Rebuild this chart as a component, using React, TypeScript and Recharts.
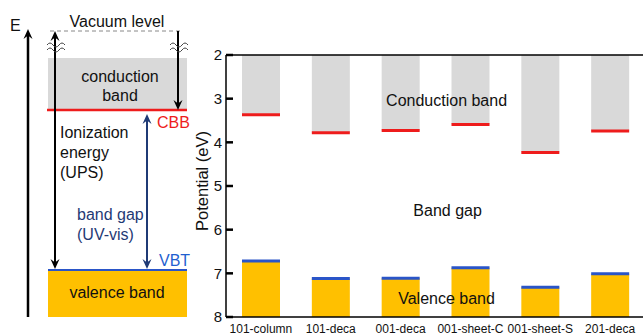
import { ComposedChart, Bar, XAxis, YAxis, ReferenceDot, ReferenceLine } from 'recharts';

// band edges (eV, axis is inverted)
const categories = ['101-column', '101-deca', '001-deca', '001-sheet-C', '001-sheet-S', '201-deca'];
const cbb = [3.37, 3.78, 3.73, 3.59, 4.23, 3.74];
const vbt = [6.72, 7.12, 7.11, 6.87, 7.32, 7.01];
const yTicks = [2, 3, 4, 5, 6, 7, 8];
const Y_MIN = 2;
const Y_MAX = 8;

const data = categories.map((name, i) => ({
  name,
  cond: [Y_MIN, cbb[i]],
  val: [vbt[i], Y_MAX],
}));

const FONT = '"Liberation Sans", Arial, sans-serif';
const GRAY = '#d9d9d9';
const YELLOW = '#ffc000';
const RED = '#ee1c1c';
const BLUE = '#2a55c8';
const NAVY = '#1f3a75';

const CondShape = (props: any) => {
  const { x, y, width, height } = props;
  const top = Math.min(y, y + height);
  const bottom = Math.max(y, y + height);
  return (
    <g>
      <rect x={x} y={top} width={width} height={bottom - top} fill={GRAY} />
      <line x1={x} x2={x + width} y1={bottom} y2={bottom} stroke={RED} strokeWidth={3} />
    </g>
  );
};

const ValShape = (props: any) => {
  const { x, y, width, height } = props;
  const top = Math.min(y, y + height);
  const bottom = Math.max(y, y + height);
  return (
    <g>
      <rect x={x} y={top} width={width} height={bottom - top} fill={YELLOW} />
      <line x1={x} x2={x + width} y1={top} y2={top} stroke={BLUE} strokeWidth={3} />
    </g>
  );
};

const YLabel = (props: any) => {
  const vb = props.viewBox;
  const cx = vb.x + 22;
  const cy = vb.y + vb.height / 2 - 5;
  return (
    <text x={cx} y={cy} transform={`rotate(-90, ${cx}, ${cy})`} textAnchor="middle" dominantBaseline="central"
      fontSize={16.5} fill="#111" fontFamily={FONT}>
      Potential (eV)
    </text>
  );
};

const note = (text: string, dx: number) => (props: any) => {
  const vb = props.viewBox;
  return (
    <text x={vb.x + dx} y={vb.y} textAnchor="middle" dominantBaseline="central" fontSize={16} fill="#111" fontFamily={FONT}>
      {text}
    </text>
  );
};

const head = (x: number, y: number, up: boolean, color: string) => {
  const s = up ? 1 : -1;
  return (
    <path
      d={`M${x},${y} L${x - 4.5},${y + 10 * s} L${x},${y + 6.5 * s} L${x + 4.5},${y + 10 * s} Z`}
      fill={color}
    />
  );
};

const squiggle = (x: number, y: number) => (
  <g fill="none" stroke="#444" strokeWidth={1}>
    <path d={`M${x},${y} q3,-4 6,0 t6,0 t6,0`} />
    <path d={`M${x},${y + 5} q3,-4 6,0 t6,0 t6,0`} />
  </g>
);

const Schematic = () => (
  <svg width={192} height={336} style={{ position: 'absolute', left: 0, top: 0 }} fontFamily={FONT}>
    <text x={10} y={31} fontSize={16} fill="#111">E</text>
    <line x1={28} x2={28} y1={317} y2={33} stroke="#000" strokeWidth={2.5} />
    {head(28, 29, true, '#000')}

    <line x1={50} x2={180} y1={31} y2={31} stroke="#888" strokeWidth={1} strokeDasharray="4 3" />
    <text x={117} y={27} fontSize={16} fill="#111" textAnchor="middle">Vacuum level</text>

    <rect x={48} y={58} width={139} height={52} fill={GRAY} />
    <text x={120} y={82} fontSize={16} fill="#111" textAnchor="middle">conduction</text>
    <text x={120} y={101} fontSize={16} fill="#111" textAnchor="middle">band</text>
    <line x1={47} x2={187} y1={110} y2={110} stroke={RED} strokeWidth={2.5} />

    <line x1={55} x2={55} y1={35} y2={265} stroke="#000" strokeWidth={2} />
    {head(55, 31, true, '#000')}
    {head(55, 269, false, '#000')}
    {squiggle(47, 45)}

    <line x1={178} x2={178} y1={31} y2={106} stroke="#000" strokeWidth={2} />
    {head(178, 110, false, '#000')}
    {squiggle(170, 45)}

    <line x1={147} x2={147} y1={118} y2={265} stroke={NAVY} strokeWidth={2} />
    {head(147, 114, true, NAVY)}
    {head(147, 269, false, NAVY)}

    <text x={157} y={128} fontSize={16} fill={RED}>CBB</text>
    <text x={60} y={138} fontSize={16} fill="#111">Ionization</text>
    <text x={60} y={158} fontSize={16} fill="#111">energy</text>
    <text x={60} y={178} fontSize={16} fill="#111">(UPS)</text>
    <text x={77} y={220} fontSize={16} fill={NAVY}>band gap</text>
    <text x={77} y={240} fontSize={16} fill={NAVY}>(UV-vis)</text>
    <text x={159} y={266} fontSize={16} fill="#1f5fd0">VBT</text>

    <line x1={48} x2={187} y1={270} y2={270} stroke={BLUE} strokeWidth={2} />
    <rect x={48} y={271} width={139} height={46} fill={YELLOW} />
    <text x={117} y={298} fontSize={16} fill="#111" textAnchor="middle">valence band</text>
  </svg>
);

export default function App() {
  return (
    <div style={{ position: 'absolute', left: 0, top: 0, width: 643, height: 336, overflow: 'hidden', background: '#fff' }}>
      <Schematic />
      <div style={{ position: 'absolute', left: 180, top: 0 }}>
        <ComposedChart width={480} height={336} data={data} margin={{ top: 55, right: 15, bottom: 0, left: 0 }}>
          <XAxis
            xAxisId="a"
            dataKey="name"
            height={19}
            axisLine={{ stroke: '#000', strokeWidth: 1.5 }}
            tickLine={false}
            tickSize={0}
            tickMargin={7}
            interval={0}
            tick={{ fontSize: 12, fill: '#111', fontFamily: FONT }}
          />
          <XAxis xAxisId="b" dataKey="name" hide />
          <YAxis
            domain={[Y_MIN, Y_MAX]}
            ticks={yTicks}
            reversed
            allowDataOverflow
            width={46}
            axisLine={{ stroke: '#000', strokeWidth: 1.5 }}
            tickLine={{ stroke: '#000', strokeWidth: 2.5 }}
            tickSize={-7}
            tickMargin={11}
            tick={{ fontSize: 15, fill: '#111', fontFamily: FONT }}
            label={<YLabel />}
          />
          <Bar xAxisId="a" dataKey="cond" barSize={38} shape={<CondShape />} isAnimationActive={false} />
          <Bar xAxisId="b" dataKey="val" barSize={38} shape={<ValShape />} isAnimationActive={false} />
          <ReferenceLine xAxisId="a" y={Y_MIN} stroke="#000" strokeWidth={1.5} />
          <ReferenceDot xAxisId="a" x="001-deca" y={3.05} r={0} stroke="none" label={note('Conduction band', 46)} />
          <ReferenceDot xAxisId="a" x="001-deca" y={5.55} r={0} stroke="none" label={note('Band gap', 47)} />
          <ReferenceDot xAxisId="a" x="001-deca" y={7.58} r={0} stroke="none" label={note('Valence band', 46)} />
        </ComposedChart>
      </div>
    </div>
  );
}
